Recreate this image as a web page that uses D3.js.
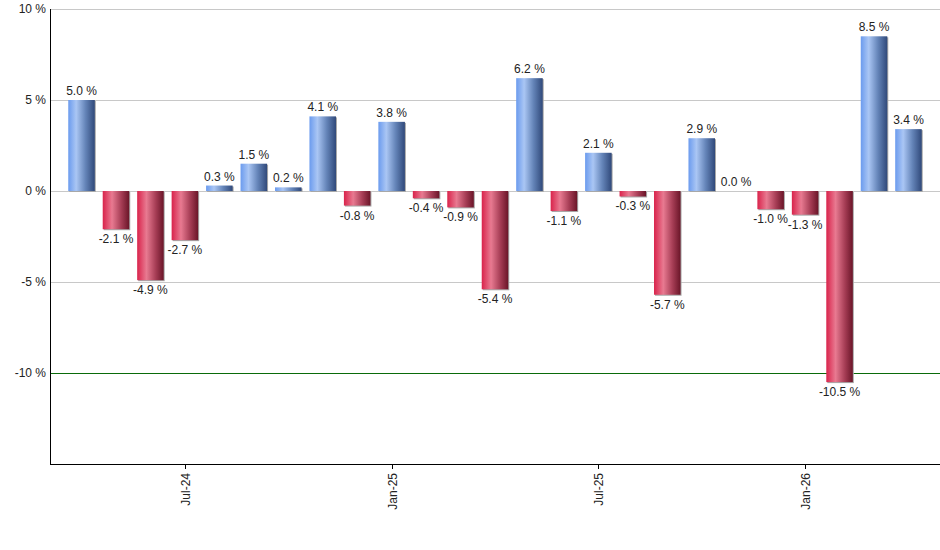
<!DOCTYPE html>
<html>
<head>
<meta charset="utf-8">
<script src="https://cdn.jsdelivr.net/npm/d3@7"></script>
<style>
  body { margin: 0; background: #fff; }
  svg { font-family: "Liberation Sans", Arial, sans-serif; }
</style>
</head>
<body>
<div id="chart"></div>
<script>
// Monthly returns, Apr-24 .. Apr-26
const months = ['Apr-24','May-24','Jun-24','Jul-24','Aug-24','Sep-24','Oct-24','Nov-24','Dec-24',
    'Jan-25','Feb-25','Mar-25','Apr-25','May-25','Jun-25','Jul-25','Aug-25','Sep-25','Oct-25',
    'Nov-25','Dec-25','Jan-26','Feb-26','Mar-26','Apr-26'];
const returns = [5.0, -2.1, -4.9, -2.7, 0.3, 1.5, 0.2, 4.1, -0.8, 3.8, -0.4, -0.9, -5.4,
    6.2, -1.1, 2.1, -0.3, -5.7, 2.9, 0.0, -1.0, -1.3, -10.5, 8.5, 3.4];
const xTickLabels = ['Jul-24', 'Jan-25', 'Jul-25', 'Jan-26'];
const yTicks = [10, 5, 0, -5, -10];

const width = 940, height = 550;
const margin = {top: 9, right: 0, bottom: 86, left: 50};

const svg = d3.select('#chart')
    .append('svg')
    .attr('width', width)
    .attr('height', height);

const defs = svg.append('defs');
function grad(id, stops) {
    const g = defs.append('linearGradient')
        .attr('id', id)
        .attr('x1', '0%').attr('x2', '100%')
        .attr('y1', '0%').attr('y2', '0%');
    stops.forEach(([o, c]) => g.append('stop').attr('offset', o).attr('stop-color', c));
}
grad('gPos', [['0%', '#6b9bee'], ['30%', '#aac6f4'], ['65%', '#6484b8'], ['100%', '#30497a']]);
grad('gNeg', [['0%', '#d9234b'], ['35%', '#e87a91'], ['70%', '#a63d55'], ['100%', '#6a1528']]);

const x = d3.scaleBand()
    .domain(months)
    .range([margin.left, width - margin.right])
    .paddingInner(0.23)
    .paddingOuter(0.53);

const y = d3.scaleLinear()
    .domain([-15, 10])
    .range([height - margin.bottom, margin.top]);

const bars = returns.map((v, i) => ({m: months[i], v}));

// Grid lines
svg.append('g')
    .selectAll('line')
    .data(yTicks)
    .enter()
    .append('line')
    .attr('x1', margin.left)
    .attr('x2', width - margin.right)
    .attr('y1', d => Math.round(y(d)) + 0.5)
    .attr('y2', d => Math.round(y(d)) + 0.5)
    .attr('stroke', d => d === -10 ? '#0a6b0a' : '#c8c8c8')
    .attr('stroke-width', 1);

// Y labels
svg.append('g')
    .selectAll('text')
    .data(yTicks)
    .enter()
    .append('text')
    .attr('x', margin.left - 4)
    .attr('y', d => y(d) + 4)
    .attr('text-anchor', 'end')
    .attr('font-size', '12px')
    .attr('fill', '#222')
    .text(d => `${d} %`);

// Bar shadows
svg.append('g')
    .selectAll('rect')
    .data(bars)
    .enter()
    .append('rect')
    .attr('x', d => x(d.m) + 1)
    .attr('y', d => Math.min(y(d.v), y(0)) + 1)
    .attr('width', x.bandwidth())
    .attr('height', d => Math.abs(y(d.v) - y(0)))
    .attr('fill', '#a8a8a8');

// Bars
svg.append('g')
    .selectAll('rect')
    .data(bars)
    .enter()
    .append('rect')
    .attr('x', d => x(d.m))
    .attr('y', d => Math.min(y(d.v), y(0)))
    .attr('width', x.bandwidth())
    .attr('height', d => Math.abs(y(d.v) - y(0)))
    .attr('fill', d => d.v >= 0 ? 'url(#gPos)' : 'url(#gNeg)');

// Value labels
svg.append('g')
    .selectAll('text')
    .data(bars)
    .enter()
    .append('text')
    .attr('x', d => x(d.m) + x.bandwidth() / 2)
    .attr('y', d => d.v >= 0 ? y(d.v) - 5 : y(d.v) + 14)
    .attr('text-anchor', 'middle')
    .attr('font-size', '12px')
    .attr('fill', '#222')
    .text(d => `${d.v.toFixed(1)} %`);

// Axes lines
svg.append('line')
    .attr('x1', margin.left + 0.5).attr('x2', margin.left + 0.5)
    .attr('y1', margin.top).attr('y2', y(-15))
    .attr('stroke', '#000');
svg.append('line')
    .attr('x1', margin.left).attr('x2', width - margin.right)
    .attr('y1', Math.round(y(-15)) + 0.5).attr('y2', Math.round(y(-15)) + 0.5)
    .attr('stroke', '#000');

// X ticks
const xt = svg.append('g')
    .selectAll('g')
    .data(xTickLabels)
    .enter()
    .append('g')
    .attr('transform', d => `translate(${Math.round(x(d) + x.bandwidth() / 2) + 0.5},${Math.round(y(-15))})`);
xt.append('line')
    .attr('y1', 0).attr('y2', 5)
    .attr('stroke', '#000');
xt.append('text')
    .attr('transform', 'rotate(-90)')
    .attr('x', -9)
    .attr('y', 4)
    .attr('text-anchor', 'end')
    .attr('font-size', '12px')
    .attr('fill', '#222')
    .text(d => d);
</script>
</body>
</html>
